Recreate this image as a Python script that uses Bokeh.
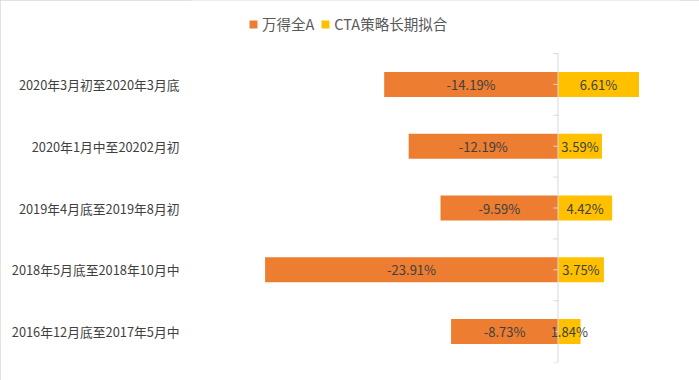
from bokeh.plotting import figure
from bokeh.models import ColumnDataSource, Range1d, Legend, LegendItem, FixedTicker
from bokeh.core.properties import value
from bokeh.embed import file_html
from bokeh.resources import INLINE

# categories, bottom to top
categories = [
    "2016年12月底至2017年5月中",
    "2018年5月底至2018年10月中",
    "2019年4月底至2019年8月初",
    "2020年1月中至20202月初",
    "2020年3月初至2020年3月底",
]
wind_a = [-8.73, -23.91, -9.59, -12.19, -14.19]
cta_fit = [1.84, 3.75, 4.42, 3.59, 6.61]
series_names = ["万得全A", "CTA策略长期拟合"]

FONT = "Noto Sans CJK SC"
ORANGE = "#ED7D31"
YELLOW = "#FFC000"
TXT = "#404040"
AXIS = "#d9d9d9"

n = len(categories)
pos = list(range(n))

src = ColumnDataSource(dict(
    y=pos,
    a=wind_a,
    b=cta_fit,
    a_mid=[v / 2 for v in wind_a],
    b_mid=[v / 2 for v in cta_fit],
    a_lab=[f"{v:.2f}%" for v in wind_a],
    b_lab=[f"{v:.2f}%" for v in cta_fit],
    zero=[0] * n,
    tick=[-0.38] * n,
))
# category boundaries for the axis ticks
bounds = [i - 0.5 for i in range(n + 1)]
bsrc = ColumnDataSource(dict(y=bounds, zero=[0] * len(bounds), tick=[-0.38] * len(bounds)))

p = figure(width=699, height=380, output_backend="svg", toolbar_location=None,
           y_range=Range1d(-0.5, n - 0.5 + 53 / 61.8), x_range=Range1d(-30, 10),
           min_border_left=190, min_border_right=19, min_border_top=0, min_border_bottom=18)
p.styles = {"outline": "1px solid #d9d9d9", "outline-offset": "-1px"}
p.outline_line_color = None
p.grid.visible = False
p.xaxis.visible = False
p.background_fill_color = "white"
p.border_fill_color = "white"

ya = p.yaxis[0]
ya.ticker = FixedTicker(ticks=pos)
ya.major_label_overrides = {i: c for i, c in zip(pos, categories)}
ya.axis_line_color = None
ya.major_tick_line_color = None
ya.minor_tick_line_color = None
ya.major_tick_out = 0
ya.major_tick_in = 0
ya.major_label_standoff = 11
ya.major_label_text_font = FONT
ya.major_label_text_font_size = "12.8px"
ya.major_label_text_color = TXT

r1 = p.hbar(y="y", left="zero", right="a", height=0.405, source=src,
            fill_color=ORANGE, line_color=None)
r2 = p.hbar(y="y", left="zero", right="b", height=0.405, source=src,
            fill_color=YELLOW, line_color=None)

# category axis crossing at zero, with ticks
p.segment(x0=0, x1=0, y0=bounds[0], y1=bounds[-1], line_color=AXIS, line_width=1)
p.segment(x0="tick", x1="zero", y0="y", y1="y", source=src, line_color=AXIS, line_width=1)
p.segment(x0="tick", x1="zero", y0="y", y1="y", source=bsrc, line_color=AXIS, line_width=1)

# data labels
for xcol, lcol in (("a_mid", "a_lab"), ("b_mid", "b_lab")):
    p.text(x=xcol, y="y", text=lcol, source=src, text_align="center", text_baseline="middle",
           text_font=value(FONT), text_font_size="13px", text_color=TXT)

legend = Legend(items=[LegendItem(label=series_names[0], renderers=[r1]),
                       LegendItem(label=series_names[1], renderers=[r2])],
                orientation="horizontal", location=(58, 328),
                glyph_width=10, glyph_height=10, label_standoff=4, spacing=6,
                padding=0, margin=0, border_line_color=None, background_fill_alpha=0,
                label_text_font=FONT, label_text_font_size="14.5px", label_text_color="#595959",
                label_height=18)
p.add_layout(legend)

open("out.html", "w").write(file_html(p, INLINE))
